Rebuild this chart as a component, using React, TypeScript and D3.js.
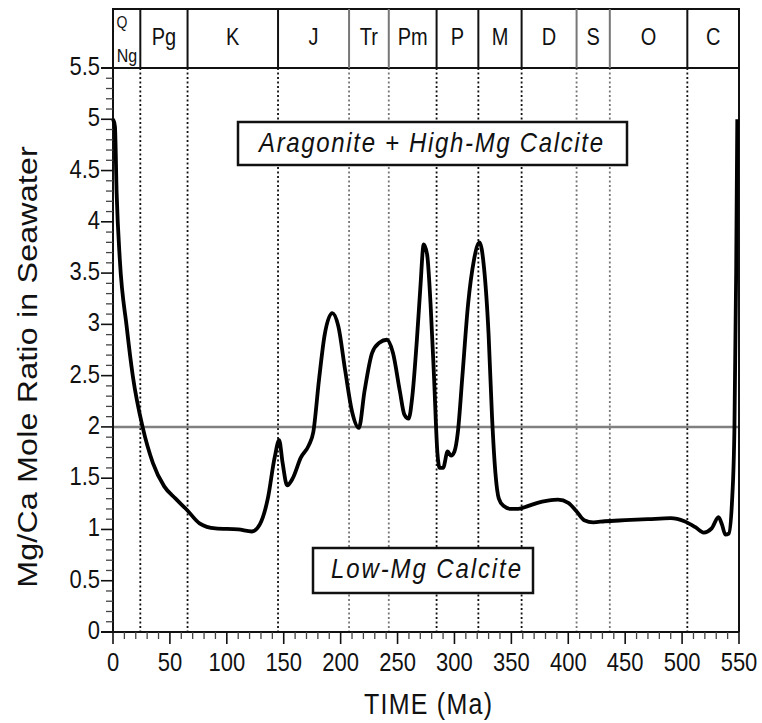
import * as d3 from "d3";

// Mg/Ca mole ratio in seawater through the Phanerozoic
const ages = [
  0, 1.7, 3.2, 6, 12, 17.5, 26, 35, 45, 55, 65, 76, 90, 110, 122, 129, 136, 142,
  146, 149, 153, 158, 165, 172, 176, 181, 186, 192.7, 198, 204, 210, 216, 221,
  227.6, 234, 240.7, 246, 252, 256, 259.7, 263, 267, 270, 273, 276, 279, 282,
  285, 287, 290, 294, 297, 300, 303, 307, 312, 317, 322, 326, 330, 333, 336,
  339, 343, 350, 356, 365, 373, 382, 391, 400, 407, 414, 422, 432, 450, 470,
  490, 502, 512, 519, 526, 532, 535, 538, 541, 544, 546, 547.5, 548.5,
];
const mgca = [
  5.0, 4.93, 4.28, 3.63, 2.98, 2.49, 2.0, 1.65, 1.42, 1.3, 1.19, 1.06, 1.01, 1.0,
  0.98, 1.05, 1.3, 1.7, 1.87, 1.65, 1.43, 1.5, 1.7, 1.82, 1.95, 2.46, 2.9, 3.11,
  2.98, 2.55, 2.15, 1.99, 2.35, 2.72, 2.82, 2.85, 2.72, 2.35, 2.12, 2.08, 2.3,
  2.85, 3.35, 3.78, 3.68, 3.2, 2.5, 1.75, 1.6, 1.6, 1.76, 1.72, 1.76, 1.95, 2.5,
  3.2, 3.62, 3.8, 3.55, 2.9, 2.1, 1.55, 1.3, 1.23, 1.2, 1.2, 1.23, 1.26, 1.28,
  1.29, 1.26, 1.18, 1.09, 1.07, 1.08, 1.09, 1.1, 1.11, 1.08, 1.02, 0.97, 1.01,
  1.12, 1.05, 0.95, 0.96, 1.3, 2.0, 3.5, 5.0,
];

// geologic period boundaries (Ma) and names
const boundaries = [24, 65.5, 145, 207.4, 242.3, 284.3, 321, 359, 407.3, 436.5, 504.6];
const boundaryDark = [true, true, true, false, false, true, true, true, false, false, true];
const periods = ["Pg", "K", "J", "Tr", "Pm", "P", "M", "D", "S", "O", "C"];

const xTicks = d3.range(0, 551, 50);
const yTicks = d3.range(0, 5.51, 0.5);

const W = 762;
const H = 723;
const SY = 1.15; // glyphs in the source are stretched vertically
const FONT = "'Liberation Sans', Arial, Helvetica, sans-serif";

const left = 113;
const right = 739;
const top = 68;
const bottom = 632;
const bandTop = 9;

export default function App() {
  const x = d3.scaleLinear().domain([0, 550]).range([left, right]);
  const y = d3.scaleLinear().domain([0, 5.5]).range([bottom, top]);

  const line = d3
    .line<number>()
    .x((_, i) => x(ages[i]))
    .y((d) => y(d))
    .curve(d3.curveMonotoneX);

  const minorX = d3.range(0, 551, 10).filter((v) => v % 50 !== 0);
  const minorY = d3.range(0, 55).map((v) => v / 10).filter((v) => Math.round(v * 10) % 5 !== 0);

  const edges = [0, ...boundaries, 550];

  const txt = (
    tx: number,
    ty: number,
    s: string,
    size: number,
    opts: { anchor?: string; italic?: boolean; len?: number; rotate?: boolean } = {}
  ) => (
    <text
      transform={`translate(${tx},${ty}) scale(1,${SY})${opts.rotate ? " rotate(-90)" : ""}`}
      fontSize={size}
      fontFamily={FONT}
      fontStyle={opts.italic ? "italic" : "normal"}
      textAnchor={opts.anchor || "middle"}
      textLength={opts.len}
      lengthAdjust={opts.len ? "spacing" : undefined}
      fill="#111"
    >
      {s}
    </text>
  );

  return (
    <svg
      width={W}
      height={H}
      style={{ position: "absolute", left: 0, top: 0, background: "#fff" }}
    >
      {/* period dotted lines */}
      {boundaries.map((b, i) => (
        <line
          key={"d" + i}
          x1={x(b)}
          x2={x(b)}
          y1={top}
          y2={bottom}
          stroke={boundaryDark[i] ? "#111" : "#777"}
          strokeWidth={1.8}
          strokeDasharray="2,2.5"
        />
      ))}

      {/* aragonite threshold */}
      <line x1={left} x2={right} y1={y(2)} y2={y(2)} stroke="#808080" strokeWidth={2.5} />

      {/* top band */}
      <rect x={left} y={bandTop} width={right - left} height={top - bandTop} fill="none" stroke="#111" strokeWidth={2} />
      {boundaries.map((b, i) => (
        <line
          key={"b" + i}
          x1={x(b)}
          x2={x(b)}
          y1={bandTop}
          y2={top}
          stroke={boundaryDark[i] ? "#111" : "#777"}
          strokeWidth={2}
        />
      ))}
      {txt(x(0) + 9, 28, "Q", 14)}
      {txt(x(0) + 14, 62, "Ng", 16)}
      {periods.map((p, i) => (
        <g key={p}>{txt((x(edges[i + 1]) + x(edges[i + 2])) / 2, 45, p, 20)}</g>
      ))}

      {/* axes */}
      <line x1={left} x2={left} y1={top} y2={bottom} stroke="#111" strokeWidth={2} />
      <line x1={right} x2={right} y1={top} y2={bottom} stroke="#111" strokeWidth={2} />
      <line x1={left - 12} x2={right} y1={bottom} y2={bottom} stroke="#111" strokeWidth={2} />
      <line x1={left - 12} x2={left} y1={top} y2={top} stroke="#111" strokeWidth={2} />

      {yTicks.map((t) => (
        <g key={"yt" + t}>
          <line x1={left - 12} x2={left} y1={y(t)} y2={y(t)} stroke="#111" strokeWidth={1.6} />
          {txt(left - 13, y(t) + 7, String(t), 22, { anchor: "end" })}
        </g>
      ))}
      {minorY.map((t) => (
        <line key={"ym" + t} x1={left - 7} x2={left} y1={y(t)} y2={y(t)} stroke="#444" strokeWidth={1.3} />
      ))}

      {xTicks.map((t) => (
        <g key={"xt" + t}>
          <line x1={x(t)} x2={x(t)} y1={bottom} y2={bottom + 12} stroke="#111" strokeWidth={1.6} />
          {txt(x(t), 671, String(t), 22)}
        </g>
      ))}
      {minorX.map((t) => (
        <line key={"xm" + t} x1={x(t)} x2={x(t)} y1={bottom} y2={bottom + 7} stroke="#444" strokeWidth={1.3} />
      ))}

      {/* data curve */}
      <path d={line(mgca) || ""} fill="none" stroke="#000" strokeWidth={3.8} strokeLinejoin="round" />

      {/* mineralogy boxes */}
      <rect x={238} y={122} width={389} height={43} fill="#fff" stroke="#111" strokeWidth={2.5} />
      {txt(431, 152, "Aragonite +  High-Mg Calcite", 24, { italic: true, len: 344 })}
      <rect x={313} y={548} width={220} height={45} fill="#fff" stroke="#111" strokeWidth={2.5} />
      {txt(426, 578, "Low-Mg Calcite", 24, { italic: true, len: 190 })}

      {/* axis titles */}
      {txt(428, 714, "TIME  (Ma)", 25, { len: 128 })}
      {txt(37, 367, "Mg/Ca Mole Ratio in Seawater", 28, { rotate: true, len: 384 })}
    </svg>
  );
}
